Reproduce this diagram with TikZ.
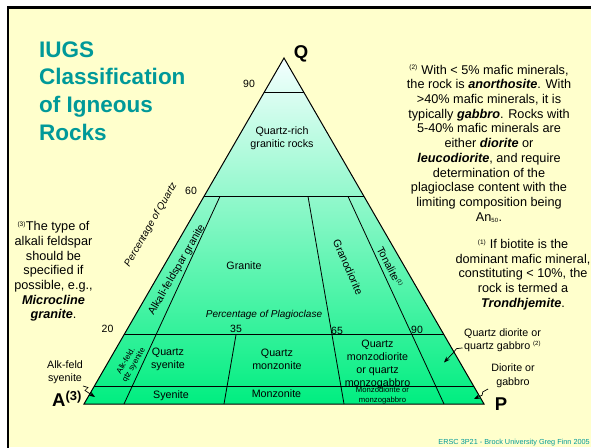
\documentclass[tikz,border=0pt]{standalone}
\usepackage{fontspec}
\setmainfont{Liberation Sans}
\usepackage{xcolor}
\definecolor{slidebg}{HTML}{FFFFCC}
\definecolor{titleteal}{HTML}{009999}
\definecolor{fieldtop}{HTML}{F4FFFF}
\definecolor{fieldbottom}{HTML}{00EE80}
\usetikzlibrary{arrows.meta,calc}

\newcommand{\bfit}[1]{\textbf{\textit{#1}}}
\newcommand{\sz}[2]{\fontsize{#1}{#2}\selectfont}
\newcommand{\fnref}[1]{\textsuperscript{\sz{6.5}{7}(#1)}}

\tikzset{
  field/.style={font=\sz{10.7}{13}, align=center, inner sep=0pt},
  tinyfield/.style={font=\sz{7.7}{9.3}, align=center, inner sep=0pt},
  pct/.style={font=\sz{10}{12}\itshape, inner sep=0pt},
  tick/.style={font=\sz{10.5}{12}, inner sep=0pt},
  corner/.style={font=\sz{18.5}{20}\bfseries, inner sep=0pt},
  note/.style={font=\sz{12.7}{14.7}, align=center, inner sep=0pt},
  side/.style={font=\sz{10.7}{13.5}, align=center, inner sep=0pt},
  pointer/.style={-{Stealth[length=6pt,width=4.5pt]}, line width=0.7pt},
  divide/.style={line width=0.8pt}
}

\begin{document}
\begin{tikzpicture}[x=1pt,y=1pt]
  \useasboundingbox (0,0) rectangle (591,447);
  \clip (0,0) rectangle (591,447);
  % slide
  \fill[slidebg] (8,0) rectangle (591,439.7);
  \draw[line width=2.7pt] (8,-5) -- (8,439.7) -- (596,439.7);

  % title
  \node[font=\sz{22.5}{27.7}\bfseries, text=titleteal, align=left, inner sep=0pt,
        anchor=west] (title) at (39,356) {IUGS\\Classification\\of Igneous\\Rocks};

  % QAPF upper triangle
  \coordinate (A) at (84,43);
  \coordinate (P) at (484,43);
  \coordinate (Q) at (284,389);
  \shade[top color=fieldtop, bottom color=fieldbottom] (A) -- (P) -- (Q) -- cycle;

  % quartz levels
  \foreach \q/\nm in {0.9/q90,0.6/q60,0.2/q20,0.05/q5}
    \draw[divide] ($(A)!\q!(Q)$) coordinate (\nm l) -- ($(P)!\q!(Q)$) coordinate (\nm r);
  % plagioclase ratios
  \foreach \f/\q in {0.10/0.6,0.35/0.2,0.65/0.6,0.90/0.6} {
    \pgfmathsetmacro\r{1-\q}
    \coordinate (b) at ($(A)!\f!(P)$);
    \draw[divide] ($(Q)!\r!(b)$) -- (b);
  }
  \draw[line width=1pt] (A) -- (P) -- (Q) -- cycle;

  % corners
  \node[corner] (Qlab) at (301,393) {Q};
  \node[corner] (Plab) at (501,43) {P};
  \node[corner] (Alab) at (67,48.5) {A\textsuperscript{(3)}};

  % scale values
  \node[tick] (t90) at (249,363.5) {90};
  \node[tick] (t60) at (191,256.5) {60};
  \node[tick] (t20) at (107.5,118.5) {20};
  \node[tick] (t35) at (236,118.5) {35};
  \node[tick] (t65) at (337,116.5) {65};
  \node[tick] (tp90) at (417,117.5) {90};
  \node[pct, rotate=60] (pq) at (151,222) {Percentage of Quartz};
  \node[pct] (pp) at (264,132) {Percentage of Plagioclase};

  % fields
  \node[field] (qrich) at (282,309) {Quartz-rich\\granitic rocks};
  \node[field] (granite) at (244,181) {Granite};
  \node[field, rotate=60] (afgran) at (177,177) {Alkali-feldspar granite};
  \node[field, rotate=-66] (grano) at (348,180) {Granodiorite};
  \node[field, rotate=-63] (tonal) at (390,180) {Tonalite\textsuperscript{\sz{5.5}{6}(1)}};
  \node[tinyfield, font=\sz{8}{9}, rotate=60] (afqs) at (130,84) {Alk-feld.\\qtz syenite};
  \node[field] (qsyen) at (168,87.5) {Quartz\\syenite};
  \node[field] (qmonz) at (277,87.5) {Quartz\\monzonite};
  \node[field] (qmdio) at (377.5,83) {Quartz\\monzodiorite\\or quartz\\monzogabbro};
  \node[field, anchor=base] (syen) at (171,48.5) {Syenite};
  \node[field, anchor=base] (monz) at (276.5,49.3) {Monzonite};
  \node[tinyfield] (mdio) at (382.5,51.5) {Monzodiorite or\\monzogabbro};

  % side labels
  \node[side] (alksyn) at (65,75) {Alk-feld\\syenite};
  \node[side, align=left, anchor=west] (qdio) at (464,107) {Quartz diorite or\\quartz gabbro \textsuperscript{\sz{6}{6}(2)}};
  \node[side] (dgab) at (513,71.5) {Diorite or\\gabbro};
  \coordinate (tipalk) at (95,50);
  \coordinate (tipqd) at (444,84.5);
  \coordinate (tipdg) at (474,48);
  \draw[pointer] (83,61) -- ++(5,-1.5) -- ++(-3,-3) -- (tipalk);
  \draw[pointer] ([shift={(-1.5,4)}]qdio.south west) -- ++(-6,-0.7) -- ++(-3.4,-4.3) -- (tipqd);
  \draw[pointer] ([shift={(-3,-1.5)}]dgab.south west) -- ++(-5.3,-3) -- ++(-0.7,-3.3) -- (tipdg);

  % notes
  \node[note] (note2) at (489,303) {\fnref{2} With < 5\% mafic minerals,\\
    the rock is \bfit{anorthosite}. With\\
    >40\% mafic minerals, it is\\
    typically \bfit{gabbro}. Rocks with\\
    5-40\% mafic minerals are\\
    either \bfit{diorite} or\\
    \bfit{leucodiorite}, and require\\
    determination of the\\
    plagioclase content with the\\
    limiting composition being\\
    An\textsubscript{\sz{6}{6}50}.};
  \node[note] (note1) at (523,172.5) {\fnref{1} If biotite is the\\
    dominant mafic mineral,\\
    constituting < 10\%, the\\
    rock is termed a\\
    \bfit{Trondhjemite}.};
  \node[note] (note3) at (53.5,175.5) {\fnref{3}The type of\\
    alkali feldspar\\
    should be\\
    specified if\\
    possible, e.g.,\\
    \bfit{Microcline}\\
    \bfit{granite}.};

  % footer
  \node[font=\sz{7.3}{8}, text=titleteal, inner sep=0pt, anchor=base east] (foot) at (590,3)
    {ERSC 3P21 - Brock University Greg Finn 2005};
\end{tikzpicture}
\end{document}
